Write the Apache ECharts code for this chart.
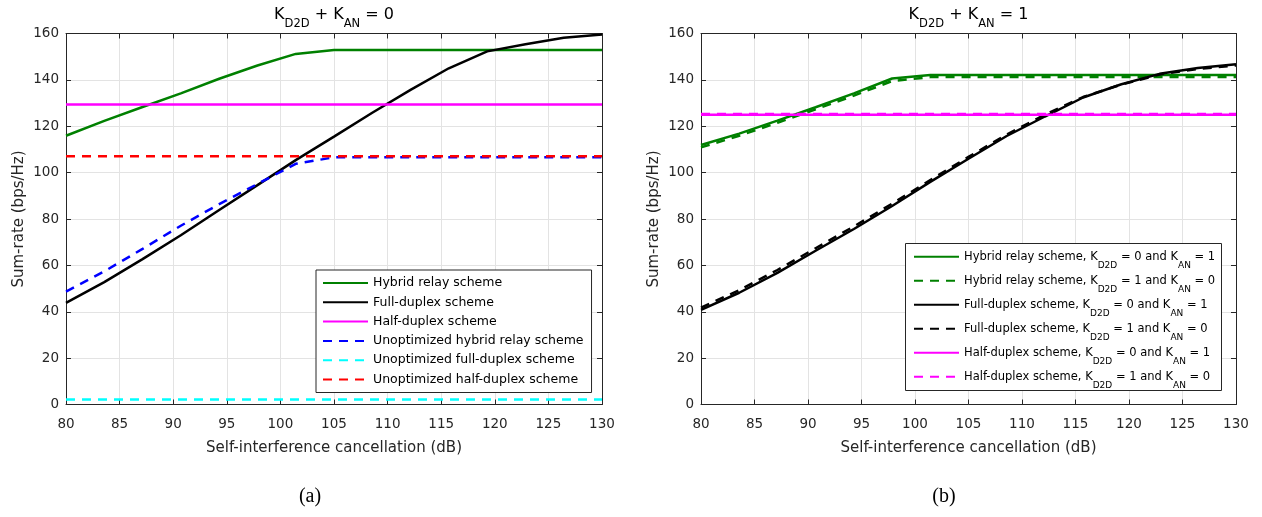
<!DOCTYPE html>
<html><head><meta charset="utf-8">
<script src="https://cdn.jsdelivr.net/npm/echarts@6/dist/echarts.min.js"></script>
<style>html,body{margin:0;padding:0;background:#fff}#c{width:1262px;height:517px}</style>
</head><body><div id="c"></div>
<script>
// ---- data ----
const sic = [80, 83.57, 87.14, 90.71, 94.29, 97.86, 101.43, 105, 108.57, 112.14, 115.71, 119.29, 122.86, 126.43, 130];
const xTicks = [80, 85, 90, 95, 100, 105, 110, 115, 120, 125, 130];
const yTicks = [0, 20, 40, 60, 80, 100, 120, 140, 160];

// panel (a): K_D2D + K_AN = 0
const namesA = ['Hybrid relay scheme', 'Full-duplex scheme', 'Half-duplex scheme',
  'Unoptimized hybrid relay scheme', 'Unoptimized full-duplex scheme', 'Unoptimized half-duplex scheme'];
const hybridA      = [115.9, 122.3, 128.3, 134.2, 140.5, 146.2, 151.2, 152.9, 152.9, 152.9, 152.9, 152.9, 152.9, 152.9, 152.9];
const fullA        = [43.8, 52.8, 62.7, 73.0, 83.9, 94.6, 105.4, 115.5, 125.8, 135.7, 145.0, 152.3, 155.4, 158.2, 159.6];
const halfA        = [129.4, 129.4, 129.4, 129.4, 129.4, 129.4, 129.4, 129.4, 129.4, 129.4, 129.4, 129.4, 129.4, 129.4, 129.4];
const unoptHybridA = [48.7, 57.4, 67.1, 77.1, 86.4, 95.1, 103.8, 106.6, 106.6, 106.6, 106.6, 106.6, 106.6, 106.6, 106.6];
const unoptFullA   = [2.2, 2.2, 2.2, 2.2, 2.2, 2.2, 2.2, 2.2, 2.2, 2.2, 2.2, 2.2, 2.2, 2.2, 2.2];
const unoptHalfA   = [107.1, 107.1, 107.1, 107.1, 107.1, 107.1, 107.1, 107.1, 107.1, 107.1, 107.1, 107.1, 107.1, 107.1, 107.1];

// panel (b): K_D2D + K_AN = 1
const namesB = ['Hybrid relay scheme, K_D2D = 0 and K_AN = 1', 'Hybrid relay scheme, K_D2D = 1 and K_AN = 0',
  'Full-duplex scheme, K_D2D = 0 and K_AN = 1', 'Full-duplex scheme, K_D2D = 1 and K_AN = 0',
  'Half-duplex scheme, K_D2D = 0 and K_AN = 1', 'Half-duplex scheme, K_D2D = 1 and K_AN = 0'];
const hybridB01 = [111.9, 116.8, 122.4, 128.2, 134.2, 140.6, 142.1, 142.1, 142.1, 142.1, 142.1, 142.1, 142.1, 142.1, 142.1];
const hybridB10 = [110.9, 115.9, 121.5, 127.3, 133.2, 139.5, 141.2, 141.2, 141.2, 141.2, 141.2, 141.2, 141.2, 141.2, 141.2];
const fullB01   = [40.8, 48.2, 56.8, 66.3, 75.7, 85.6, 96.0, 106.0, 115.8, 124.2, 132.4, 138.1, 142.6, 145.1, 146.7];
const fullB10   = [41.8, 49.3, 58.0, 67.4, 76.8, 86.6, 96.8, 106.8, 116.4, 125.0, 132.6, 138.0, 142.3, 144.7, 146.2];
const halfB01   = [125.0, 125.0, 125.0, 125.0, 125.0, 125.0, 125.0, 125.0, 125.0, 125.0, 125.0, 125.0, 125.0, 125.0, 125.0];
const halfB10   = [125.3, 125.3, 125.3, 125.3, 125.3, 125.3, 125.3, 125.3, 125.3, 125.3, 125.3, 125.3, 125.3, 125.3, 125.3];

// ---- chart ----
const FONT = 'DejaVu Sans';
const AX = '#262626';
const pairs = ys => sic.map((x, i) => [x, ys[i]]);
const DASH = [9, 7];

function line(name, ys, color, dashed, gi) {
  return {
    type: 'line', name, data: pairs(ys), xAxisIndex: gi * 2, yAxisIndex: gi * 2,
    symbol: 'none', showSymbol: false, animation: false, silent: true,
    lineStyle: { color, width: 2.5, type: dashed ? DASH : 'solid' },
    itemStyle: { color }
  };
}
function xAx(gi, top) {
  return {
    type: 'value', gridIndex: gi, min: xTicks[0], max: xTicks[xTicks.length - 1], interval: 5,
    position: top ? 'top' : 'bottom',
    axisLine: { show: true, onZero: false, lineStyle: { color: AX, width: 1 } },
    axisTick: { show: true, inside: true, length: 5, lineStyle: { color: AX } },
    axisLabel: { show: !top, margin: 13, color: AX, fontFamily: FONT, fontSize: 13.5 },
    splitLine: { show: !top, lineStyle: { color: '#e3e3e3', width: 1 } },
    name: top ? '' : 'Self-interference cancellation (dB)',
    nameLocation: 'middle', nameGap: 36,
    nameTextStyle: { color: AX, fontFamily: FONT, fontSize: 15 }
  };
}
function yAx(gi, right) {
  return {
    type: 'value', gridIndex: gi, min: yTicks[0], max: yTicks[yTicks.length - 1], interval: 20,
    position: right ? 'right' : 'left',
    axisLine: { show: true, onZero: false, lineStyle: { color: AX, width: 1 } },
    axisTick: { show: true, inside: true, length: 5, lineStyle: { color: AX } },
    axisLabel: { show: !right, margin: 7, color: AX, fontFamily: FONT, fontSize: 13.5 },
    splitLine: { show: !right, lineStyle: { color: '#e3e3e3', width: 1 } },
    name: right ? '' : 'Sum-rate (bps/Hz)',
    nameLocation: 'middle', nameGap: 39,
    nameTextStyle: { color: AX, fontFamily: FONT, fontSize: 15 }
  };
}

const subRich = { s: { fontFamily: FONT, fontSize: 11.5, lineHeight: 10, verticalAlign: 'bottom', fill: '#000' } };
const hideSym = { opacity: 0, color: 'transparent', borderWidth: 0 };

const option = {
  animation: false,
  backgroundColor: '#fff',
  grid: [
    { left: 66, top: 33.5, width: 536, height: 371 },
    { left: 701, top: 33.5, width: 535, height: 371 }
  ],
  xAxis: [xAx(0, false), xAx(0, true), xAx(1, false), xAx(1, true)],
  yAxis: [yAx(0, false), yAx(0, true), yAx(1, false), yAx(1, true)],
  legend: [
    {
      data: namesA, orient: 'vertical', left: 316, top: 270,
      padding: [6, 8, 6, 6], itemWidth: 45, itemHeight: 14, itemGap: 5.3,
      backgroundColor: '#fff', borderColor: AX, borderWidth: 1, borderRadius: 0,
      itemStyle: hideSym,
      textStyle: { color: '#000', fontFamily: FONT, fontSize: 12.5, lineHeight: 14 },
      selectedMode: false, z: 10
    },
    {
      data: namesB, orient: 'vertical', left: 913, top: 243.7,
      padding: 0, itemWidth: 45, itemHeight: 14, itemGap: -2,
      selectedMode: false, z: 10,
      itemStyle: hideSym,
      formatter: n => n.replace(/_(D2D|AN)/g, '{s|$1}'),
      textStyle: {
        color: '#000', fontFamily: FONT, fontSize: 11.5, lineHeight: 26,
        rich: { s: { color: '#000', fontFamily: FONT, fontSize: 9, lineHeight: 8, verticalAlign: 'bottom' } }
      }
    }
  ],
  graphic: [
    { type: 'rect', z: 5, silent: true, shape: { x: 905.5, y: 243.5, width: 316, height: 147 },
      style: { fill: '#fff', stroke: AX, lineWidth: 1 } },
    { type: 'text', x: 334, y: 15, silent: true,
      style: { text: 'K{s|D2D} + K{s|AN} = 0', align: 'center', verticalAlign: 'middle',
        fontFamily: FONT, fontSize: 16, lineHeight: 30, fill: '#000', rich: subRich } },
    { type: 'text', x: 968.5, y: 15, silent: true,
      style: { text: 'K{s|D2D} + K{s|AN} = 1', align: 'center', verticalAlign: 'middle',
        fontFamily: FONT, fontSize: 16, lineHeight: 30, fill: '#000', rich: subRich } },
    { type: 'text', x: 310, y: 497, silent: true,
      style: { text: '(a)', align: 'center', verticalAlign: 'middle',
        fontFamily: 'Liberation Serif', fontSize: 20, fill: '#000' } },
    { type: 'text', x: 944, y: 497, silent: true,
      style: { text: '(b)', align: 'center', verticalAlign: 'middle',
        fontFamily: 'Liberation Serif', fontSize: 20, fill: '#000' } }
  ],
  series: [
    line(namesA[0], hybridA, '#008000', false, 0),
    line(namesA[1], fullA, '#000000', false, 0),
    line(namesA[2], halfA, '#ff00ff', false, 0),
    line(namesA[3], unoptHybridA, '#0000ff', true, 0),
    line(namesA[4], unoptFullA, '#00ffff', true, 0),
    line(namesA[5], unoptHalfA, '#ff0000', true, 0),
    line(namesB[0], hybridB01, '#008000', false, 1),
    line(namesB[1], hybridB10, '#008000', true, 1),
    line(namesB[2], fullB01, '#000000', false, 1),
    line(namesB[3], fullB10, '#000000', true, 1),
    line(namesB[4], halfB01, '#ff00ff', false, 1),
    line(namesB[5], halfB10, '#ff00ff', true, 1)
  ]
};
const chart = echarts.init(document.getElementById('c'), null, { renderer: 'canvas' });
chart.setOption(option);
</script>
</body></html>
